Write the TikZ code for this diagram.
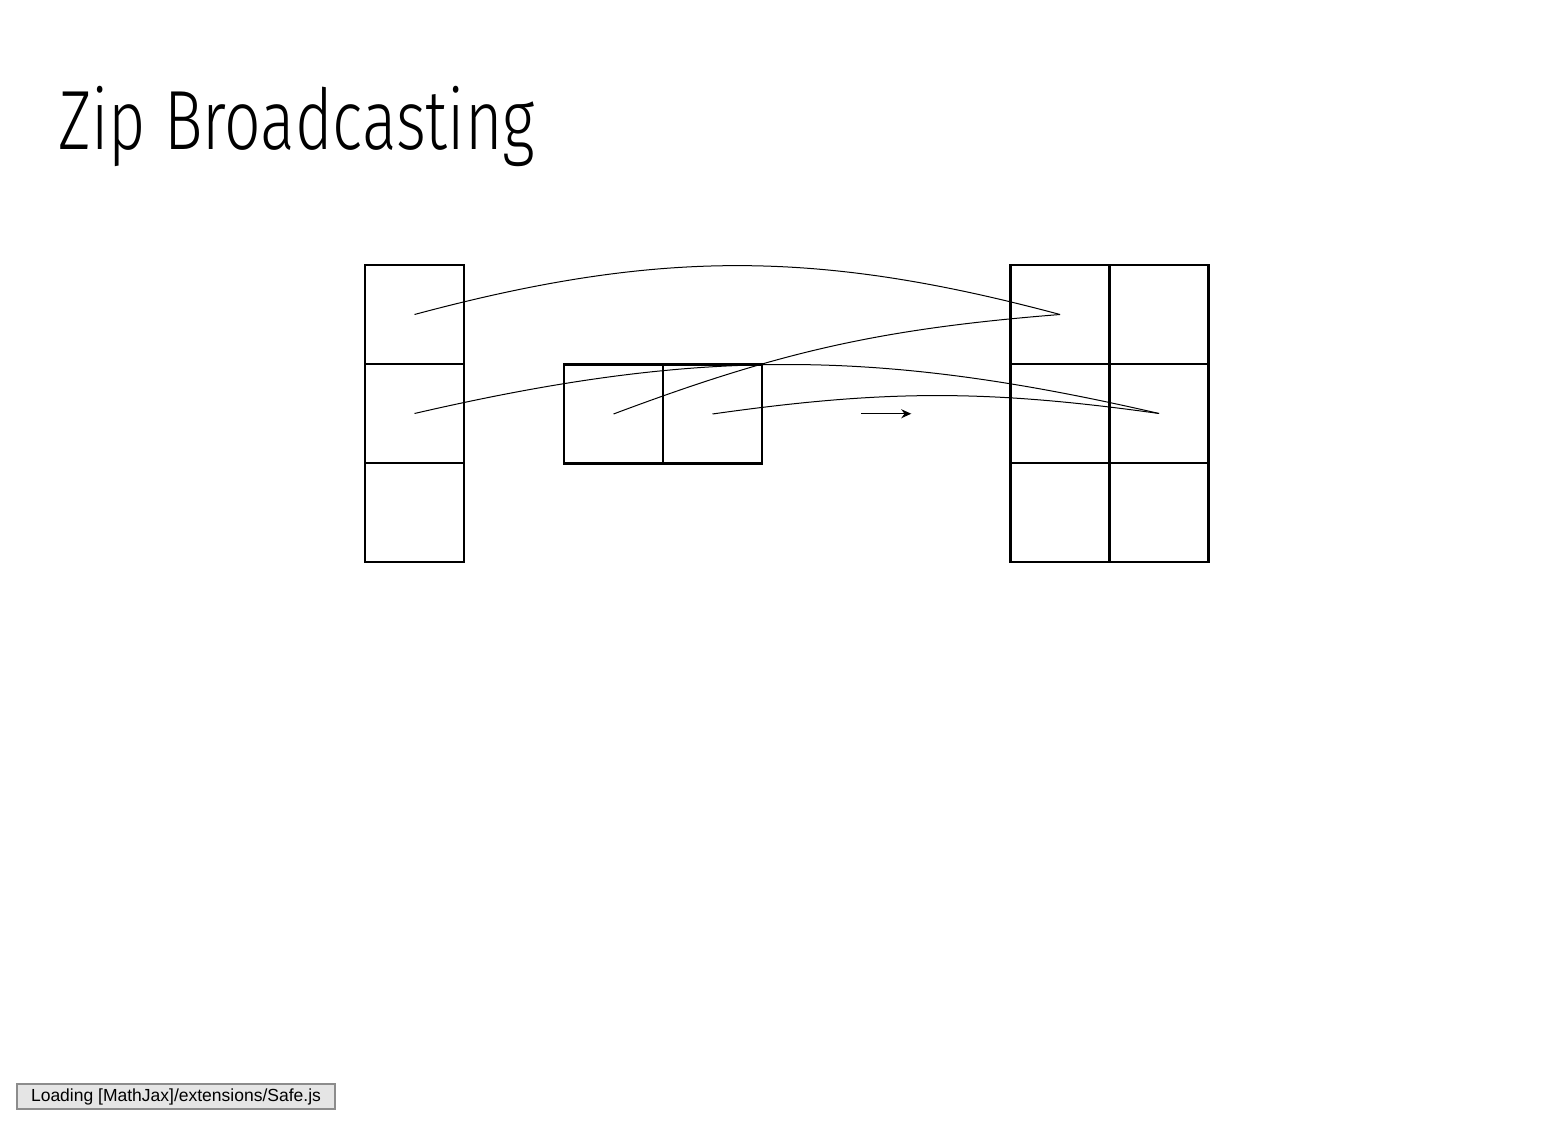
\documentclass[tikz,border=0pt]{standalone}
\usepackage{fontspec}
\newfontfamily\titlefont{Fira Sans}[UprightFont={* Light}, FakeStretch=0.765]
\newfontfamily\notefont{Liberation Sans}
\usepackage{tikz}
\usetikzlibrary{arrows.meta,positioning,calc}

\begin{document}
\begin{tikzpicture}[
  x=0.5pt, y=0.5pt,
  cell/.style={rectangle, draw=black, line width=1.2pt, minimum size=49.5pt, inner sep=0pt, outer sep=0pt},
  link/.style={draw=black, line width=0.5pt},
  zip/.style={-{Stealth[length=5pt,width=4.5pt]}, line width=0.7pt}
]
  \useasboundingbox (0,0) rectangle (1561,-1138);

  % Title
  \node[anchor=base west, inner sep=0pt, font=\titlefont\fontsize{42}{50}\selectfont] (title) at (58,-150) {Zip Broadcasting};

  % Column (3x1)
  \node[cell] (a0) at (414.5,-314.5) {};
  \node[cell, below=0pt of a0] (a1) {};
  \node[cell, below=0pt of a1] (a2) {};

  % Row (1x2)
  \node[cell] (b0) at (613.5,-414) {};
  \node[cell, right=0pt of b0] (b1) {};

  % Result (3x2)
  \node[cell] (c00) at (1060,-314.5) {};
  \node[cell, right=0pt of c00] (c01) {};
  \node[cell, below=0pt of c00] (c10) {};
  \node[cell, right=0pt of c10] (c11) {};
  \node[cell, below=0pt of c10] (c20) {};
  \node[cell, right=0pt of c20] (c21) {};

  % Arrow
  \coordinate (zmid) at ($(b1.east)!0.5!(c10.west)$);
  \coordinate[left=12.5pt of zmid] (zfrom);
  \coordinate[right=12.5pt of zmid] (zto);
  \draw[zip] (zfrom) -- (zto);

  % Pairings
  \path[link]
    (a0.center) edge[bend left=15] (c00.center)
    (a1.center) edge[bend left=13] (c11.center)
    (b0.center) edge[bend left=8] (c00.center)
    (b1.center) edge[bend left=8] (c11.center);

  % Loading note
  \node[draw=black!45, fill=black!10, line width=0.6pt, minimum width=159pt, minimum height=12.5pt, inner sep=0pt,
        font=\notefont\fontsize{8.75}{10}\selectfont] (note) at (176,-1096.5) {Loading [MathJax]/extensions/Safe.js};
\end{tikzpicture}
\end{document}
